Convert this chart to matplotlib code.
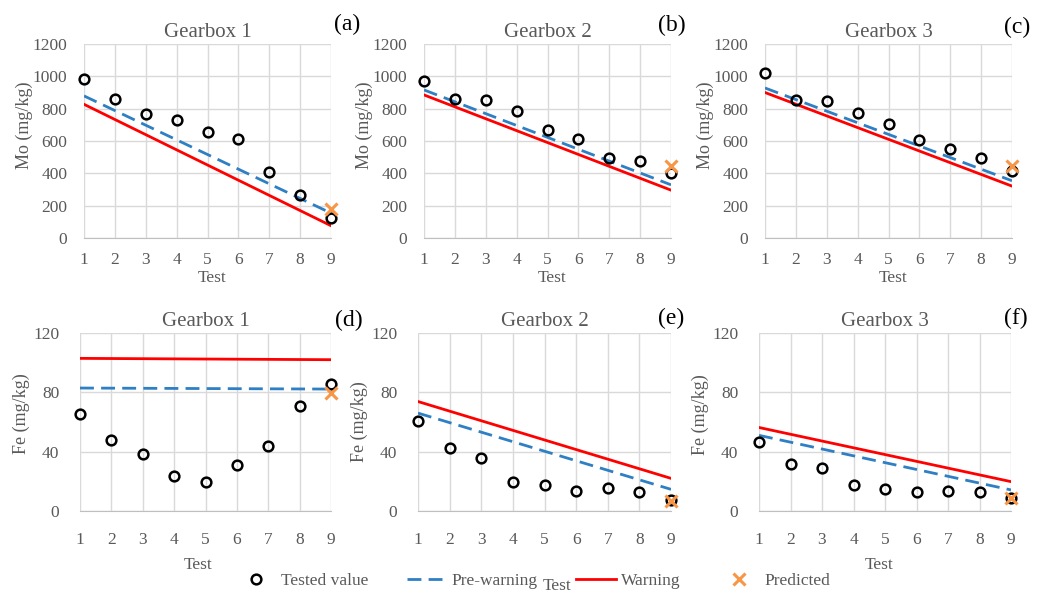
"""
Mo and Fe concentration trends for three gearboxes with warning limits.
"""

import numpy as np
import matplotlib.pyplot as plt
from matplotlib.lines import Line2D

plt.rcParams['font.family'] = ['Liberation Serif', 'DejaVu Serif']

# ---- data -----------------------------------------------------------------
tests = [1, 2, 3, 4, 5, 6, 7, 8, 9]
limit_tests = [1, 9]          # limit lines are straight: values at first and last test
gearboxes = ['Gearbox 1', 'Gearbox 2', 'Gearbox 3']

mo_tested_g1 = [985, 857, 767, 727, 658, 611, 407, 266, 126]
mo_tested_g2 = [971, 860, 852, 784, 669, 613, 492, 475, 399]
mo_tested_g3 = [1021, 856, 846, 772, 706, 609, 548, 492, 416]
mo_prewarn = [[879, 154], [916, 329], [928, 354]]
mo_warn = [[827, 76], [885, 296], [900, 321]]
mo_predicted = [179, 443, 443]

fe_tested_g1 = [65.3, 48.0, 38.7, 23.9, 19.6, 30.8, 43.9, 71.1, 85.3]
fe_tested_g2 = [60.8, 42.8, 35.6, 19.6, 17.6, 13.5, 15.3, 12.6, 7.2]
fe_tested_g3 = [46.8, 32.0, 28.8, 17.8, 14.6, 12.6, 13.7, 12.6, 8.8]
fe_prewarn = [[82.9, 82.2], [66.0, 14.6], [51.0, 14.2]]
fe_warn = [[102.9, 102.0], [73.8, 22.0], [56.3, 19.8]]
fe_predicted = [79.5, 6.8, 8.8]

panel_tags = ['(a)', '(b)', '(c)', '(d)', '(e)', '(f)']

# ---- style ----------------------------------------------------------------
W, H = 1046, 592
GREY = '#595959'
GRID = '#d9d9d9'
BLUE = '#2e7fc4'
RED = '#ff0000'
ORANGE = '#f79646'
DASH = (5, 2.6)


def px_axes(fig, left, right, top, bottom):
    """Add axes placed with pixel edges (origin top-left)."""
    return fig.add_axes([left / W, (H - bottom) / H, (right - left) / W, (bottom - top) / H])


def draw_panel(ax, tested, prewarn, warn, pred, title, ymax, ystep, ylabel,
               xlab_xy, ylab_xy, xpad, ypad):
    ax.plot(limit_tests, prewarn, color=BLUE, lw=2.0, dashes=DASH, zorder=3)
    ax.plot(limit_tests, warn, color=RED, lw=2.0, zorder=3)
    ax.plot(tests, tested, 'o', ms=7, mfc='none', mec='black', mew=1.8,
            zorder=4, clip_on=False)
    ax.plot(tests[-1], pred, 'x', ms=9, mec=ORANGE, mew=2.2, zorder=5, clip_on=False)

    ax.set_xlim(1, 9)
    ax.set_ylim(0, ymax)
    ax.set_xticks(tests)
    ax.set_yticks(np.arange(0, ymax + 1, ystep))
    ax.grid(True, color=GRID, lw=1.0)
    ax.set_axisbelow(True)
    for side in ['top', 'right', 'left']:
        ax.spines[side].set_visible(False)
    ax.spines['bottom'].set_color('#bfbfbf')
    ax.tick_params(length=0, labelsize=12.5, labelcolor=GREY)
    ax.tick_params(axis='x', pad=xpad)
    ax.tick_params(axis='y', pad=ypad)

    ax.set_title(title, fontsize=15, color=GREY, pad=5)
    ax.set_xlabel('Test', fontsize=12.5, color=GREY)
    ax.xaxis.set_label_coords(*xlab_xy)
    ax.set_ylabel(ylabel, fontsize=13, color=GREY)
    ax.yaxis.set_label_coords(*ylab_xy)


fig = plt.figure(figsize=(W / 100, H / 100), dpi=100)

# top row: Mo
top_edges = [(84, 331), (424, 671), (765, 1012)]
mo_tested = [mo_tested_g1, mo_tested_g2, mo_tested_g3]
for i, (l, r) in enumerate(top_edges):
    ax = px_axes(fig, l, r, 44, 238)
    draw_panel(ax, mo_tested[i], mo_prewarn[i], mo_warn[i], mo_predicted[i],
               gearboxes[i], 1200, 200, 'Mo (mg/kg)',
               (0.52, -0.165), (-0.205, 0.58), 10, 12)

# bottom row: Fe
bot_edges = [(80, 331), (418, 671), (759, 1011)]
fe_tested = [fe_tested_g1, fe_tested_g2, fe_tested_g3]
xlab_pos = [(0.47, -0.26), (0.55, -0.375), (0.476, -0.26)]
ylab_pos = [(-0.2, 0.545), (-0.198, 0.5), (-0.198, 0.54)]
for i, (l, r) in enumerate(bot_edges):
    ax = px_axes(fig, l, r, 333, 511)
    draw_panel(ax, fe_tested[i], fe_prewarn[i], fe_warn[i], fe_predicted[i],
               gearboxes[i], 120, 40, 'Fe (mg/kg)',
               xlab_pos[i], ylab_pos[i], 15, 15)

# panel tags
tag_xy = [(347, 24), (672, 25), (1017, 27), (349, 320), (671, 318), (1016, 318)]
for tag, (x, y) in zip(panel_tags, tag_xy):
    fig.text(x / W, 1 - y / H, tag, fontsize=17, color='black', ha='center', va='center')

# shared legend along the bottom
handles = [
    Line2D([], [], ls='none', marker='o', ms=7, mfc='none', mec='black', mew=1.8),
    Line2D([], [], color=BLUE, lw=2.0, dashes=DASH),
    Line2D([], [], color=RED, lw=2.0),
    Line2D([], [], ls='none', marker='x', ms=9, mec=ORANGE, mew=2.2),
]
labels = ['Tested value', 'Pre-warning', 'Warning', 'Predicted']
leg = fig.legend(handles, labels, loc='center', bbox_to_anchor=(533 / W, 1 - 581 / H),
                 ncol=4, frameon=False, fontsize=12.5, handlelength=2.3,
                 handletextpad=0.3, columnspacing=2.2)
for t in leg.get_texts():
    t.set_color(GREY)

fig.savefig('out.png', dpi=100)
plt.close(fig)
